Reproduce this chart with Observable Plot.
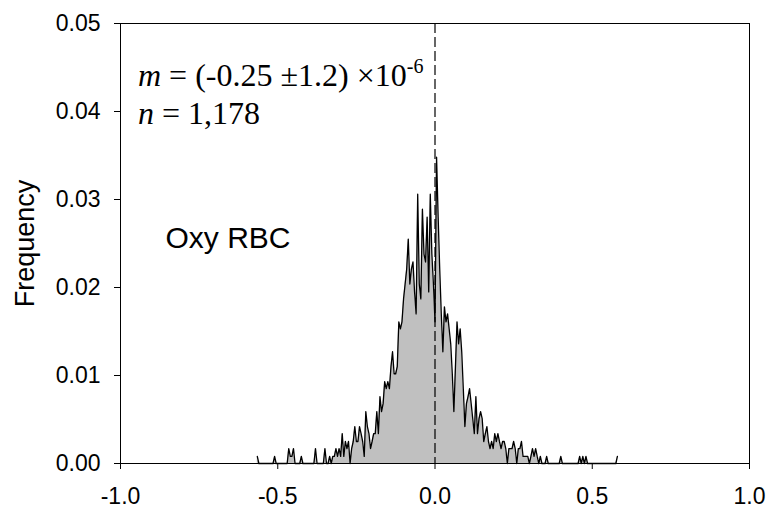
<!DOCTYPE html>
<html>
<head>
<meta charset="utf-8">
<script src="https://cdn.jsdelivr.net/npm/d3@7"></script>
<script src="https://cdn.jsdelivr.net/npm/@observablehq/plot@0.6"></script>
<style>
  html, body { margin: 0; padding: 0; background: #fff; }
  #chart { width: 767px; height: 508px; }
  svg text { white-space: pre; }
</style>
</head>
<body>
<div id="chart"></div>
<script>
// Bin centres (slope) of the frequency polygon
const slopeBins = [
  -0.565,-0.560,-0.555,-0.550,-0.545,-0.540,-0.535,-0.530,-0.525,-0.520,
  -0.515,-0.510,-0.505,-0.500,-0.495,-0.490,-0.485,-0.480,-0.475,-0.470,
  -0.465,-0.460,-0.455,-0.450,-0.445,-0.440,-0.435,-0.430,-0.425,-0.420,
  -0.415,-0.410,-0.405,-0.400,-0.395,-0.390,-0.385,-0.380,-0.375,-0.370,
  -0.365,-0.360,-0.355,-0.350,-0.345,-0.340,-0.335,-0.330,-0.325,-0.320,
  -0.315,-0.310,-0.305,-0.300,-0.295,-0.290,-0.285,-0.280,-0.275,-0.270,
  -0.265,-0.260,-0.255,-0.250,-0.245,-0.240,-0.235,-0.230,-0.225,-0.220,
  -0.215,-0.210,-0.205,-0.200,-0.195,-0.190,-0.185,-0.180,-0.175,-0.170,
  -0.165,-0.160,-0.155,-0.150,-0.145,-0.140,-0.135,-0.130,-0.125,-0.120,
  -0.115,-0.110,-0.105,-0.100,-0.095,-0.090,-0.085,-0.080,-0.075,-0.070,
  -0.065,-0.060,-0.055,-0.050,-0.045,-0.040,-0.035,-0.030,-0.025,-0.020,
  -0.015,-0.010,-0.005,0.000,0.005,0.010,0.015,0.020,0.025,0.030,
  0.035,0.040,0.045,0.050,0.055,0.060,0.065,0.070,0.075,0.080,
  0.085,0.090,0.095,0.100,0.105,0.110,0.115,0.120,0.125,0.130,
  0.135,0.140,0.145,0.150,0.155,0.160,0.165,0.170,0.175,0.180,
  0.185,0.190,0.195,0.200,0.205,0.210,0.215,0.220,0.225,0.230,
  0.235,0.240,0.245,0.250,0.255,0.260,0.265,0.270,0.275,0.280,
  0.285,0.290,0.295,0.300,0.305,0.310,0.315,0.320,0.325,0.330,
  0.335,0.340,0.345,0.350,0.355,0.360,0.365,0.370,0.375,0.380,
  0.385,0.390,0.395,0.400,0.405,0.410,0.415,0.420,0.425,0.430,
  0.435,0.440,0.445,0.450,0.455,0.460,0.465,0.470,0.475,0.480,
  0.485,0.490,0.495,0.500,0.505,0.510,0.515,0.520,0.525,0.530,
  0.535,0.540,0.545,0.550,0.555,0.560,0.565,0.570,0.575,0.580
];

// Frequency in each bin
const frequency = [
  0.0008,0,0,0,0,0,0,0,0,0,
  0,0.0008,0,0,0,0,0,0,0,0,
  0.0017,0.0008,0.0008,0.0017,0,0,0,0,0.0008,0,
  0,0,0,0,0,0,0,0.0017,0,0,
  0,0,0,0.0017,0,0,0.0008,0,0.0008,0.0008,
  0.0017,0.0008,0.0017,0.0008,0.0034,0.0008,0.0025,0.0017,0.0025,0,
  0.0017,0.0025,0.0042,0.0025,0.0025,0.0042,0.0034,0.0025,0.0008,0.0059,
  0.0042,0.0034,0.0017,0.0025,0.0034,0.0034,0.0059,0.0034,0.0076,0.0059,
  0.0068,0.0093,0.0085,0.0093,0.0085,0.0110,0.0127,0.0102,0.0102,0.0110,
  0.0161,0.0153,0.0161,0.0187,0.0204,0.0221,0.0255,0.0204,0.0221,0.0229,
  0.0195,0.0170,0.0306,0.0204,0.0187,0.0289,0.0238,0.0229,0.0280,0.0195,
  0.0306,0.0238,0.0204,0.0161,0.0348,0.0280,0.0221,0.0170,0.0127,0.0178,
  0.0161,0.0170,0.0153,0.0136,0.0102,0.0059,0.0110,0.0161,0.0136,0.0153,
  0.0127,0.0085,0.0042,0.0068,0.0076,0.0085,0.0068,0.0051,0.0034,0.0076,
  0.0034,0.0051,0.0059,0.0051,0.0025,0.0034,0.0042,0.0025,0.0017,0.0025,
  0.0017,0.0034,0.0025,0.0034,0.0025,0.0017,0.0025,0.0025,0.0017,0,
  0.0017,0.0017,0.0017,0.0025,0.0017,0,0.0017,0.0017,0.0025,0.0008,
  0.0008,0.0008,0.0008,0,0.0008,0.0017,0.0008,0.0017,0.0008,0,
  0.0008,0,0,0,0.0008,0,0,0,0,0,
  0,0,0,0.0008,0,0,0,0,0,0,
  0,0,0,0,0,0.0008,0,0.0008,0,0.0008,
  0,0,0,0,0,0,0,0,0,0,
  0,0,0,0,0,0,0,0,0,0.0008
];

const xTicks = [-1, -0.5, 0, 0.5, 1];
const yTicks = [0, 0.01, 0.02, 0.03, 0.04, 0.05];
const meanLine = [0];
const yLabel = "Frequency";
const sampleLabel = "Oxy RBC";
const slopeText = ["m", " = (-0.25 \u00B11.2) \u00D710", "-6"];
const countText = ["n", " = 1,178"];

const rows = slopeBins.map((x, i) => ({x, f: frequency[i]}));

const sans = "'Liberation Sans', Arial, sans-serif";
const serif = "'Liberation Serif', 'Times New Roman', serif";

const plot = Plot.plot({
  width: 767,
  height: 508,
  marginLeft: 120,
  marginRight: 18,
  marginTop: 23,
  marginBottom: 45,
  style: {fontFamily: sans, fontSize: "23px", background: "#fff", color: "#000", overflow: "visible"},
  x: {domain: [-1, 1]},
  y: {domain: [0, 0.05]},
  marks: [
    Plot.areaY(rows, {x: "x", y: "f", fill: "#c0c0c0"}),
    Plot.lineY(rows, {x: "x", y: "f", stroke: "#000", strokeWidth: 1.3}),
    Plot.ruleX(meanLine, {stroke: "#000", strokeWidth: 1.2, strokeDasharray: "10,4"}),
    Plot.frame({stroke: "#000", strokeWidth: 1}),
    Plot.axisX({ticks: xTicks, tickFormat: d => d.toFixed(1), tickSize: 6, tickPadding: 18, label: null, fontSize: 23}),
    Plot.axisY({ticks: yTicks, tickFormat: d => d.toFixed(2), tickSize: 6, tickPadding: 14, label: null, fontSize: 23}),
    Plot.text([yLabel], {text: d => d, frameAnchor: "left", dx: -95, rotate: -90, textAnchor: "middle", fontSize: 27, fill: "#000"}),
    Plot.text([sampleLabel], {text: d => d, frameAnchor: "top-left", dx: 45, dy: 224, textAnchor: "start", lineAnchor: "bottom", fontSize: 30, fill: "#000"})
  ]
});

document.getElementById("chart").appendChild(plot);

// Statistics annotation with italic symbols and superscript
const svg = d3.select(plot);
const g = svg.append("g")
  .attr("font-family", serif)
  .attr("font-size", 32)
  .attr("text-anchor", "start")
  .attr("fill", "#000");
const t1 = g.append("text").attr("x", 138).attr("y", 86);
t1.append("tspan").attr("font-style", "italic").text(slopeText[0]);
t1.append("tspan").text(slopeText[1]);
t1.append("tspan").attr("font-size", 20).attr("dy", -13).text(slopeText[2]);
const t2 = g.append("text").attr("x", 138).attr("y", 124);
t2.append("tspan").attr("font-style", "italic").text(countText[0]);
t2.append("tspan").text(countText[1]);
</script>
</body>
</html>
